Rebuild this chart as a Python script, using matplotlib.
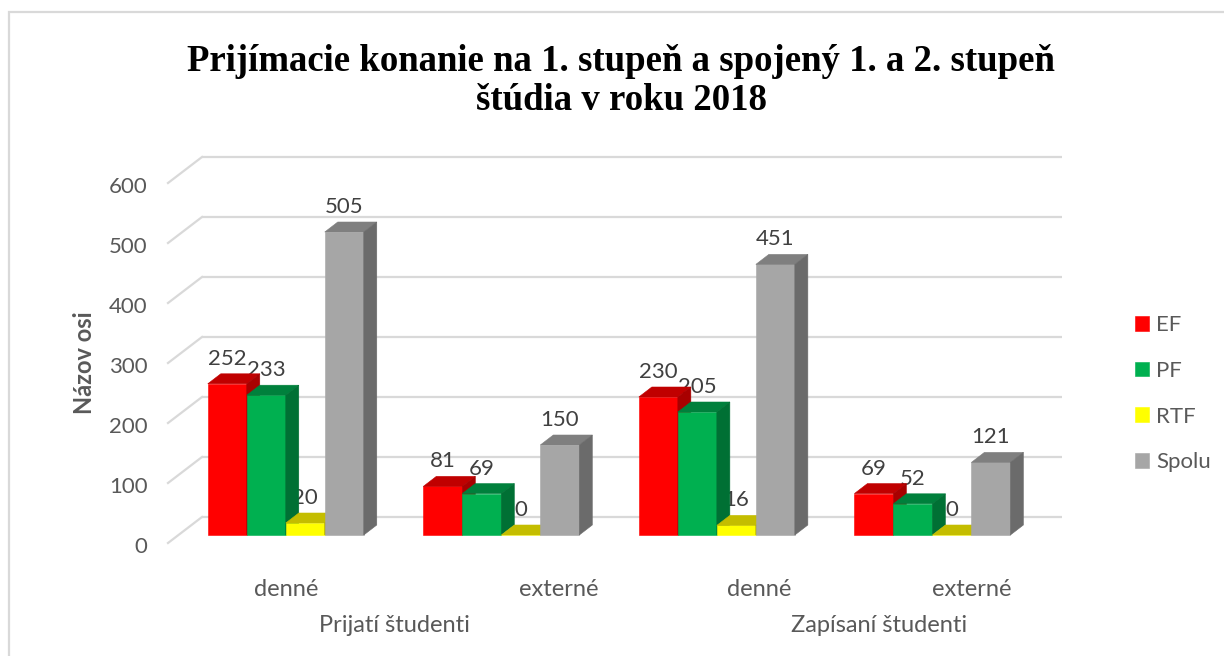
import numpy as np
import matplotlib
matplotlib.use("Agg")
import matplotlib.pyplot as plt
import matplotlib.transforms as mtransforms
from matplotlib.patches import Polygon, Rectangle

# --- chart data ---
categories = ["denné", "externé", "denné", "externé"]
super_categories = ["Prijatí študenti", "Zapísaní študenti"]
series_names = ["EF", "PF", "RTF", "Spolu"]
ef_values = [252, 81, 230, 69]
pf_values = [233, 69, 205, 52]
rtf_values = [20, 0, 16, 0]
spolu_values = [505, 150, 451, 121]
y_ticks = [0, 100, 200, 300, 400, 500, 600]

title_text = "Prijímacie konanie na 1. stupeň a spojený 1. a 2. stupeň\nštúdia v roku 2018"
y_title = "Názov osi"

# --- style ---
# front, top, side face colours per series
face_colors = [
    ("#FF0000", "#C00000", "#A80000"),
    ("#00B050", "#00803C", "#007034"),
    ("#FFFF00", "#C4BD00", "#A8A200"),
    ("#A6A6A6", "#7F7F7F", "#6B6B6B"),
]
GRID_COLOR = "#D9D9D9"
TEXT_COLOR = "#595959"
LABEL_COLOR = "#404040"
SANS = ["Lato", "DejaVu Sans"]

W, H = 1224, 656
fig = plt.figure(figsize=(W / 100, H / 100), dpi=100)

# axes = front plane of the bars (pixels 178..1038 x 535..175)
ax = fig.add_axes([178 / W, (H - 535) / H, 860 / W, 360 / H])
x_lim = (-0.5, 3.49)
ax.set_xlim(*x_lim)
ax.set_ylim(0, 600)
px_x = 860 / (x_lim[1] - x_lim[0])   # pixels per category unit
px_y = 360 / 600                     # pixels per value unit

# depth offsets, pixels -> data units
bar_dx, bar_dy = 13 / px_x, 10 / px_y
wall_dx, wall_dy = 24 / px_x, 18 / px_y
floor_dx, floor_dy = -10 / px_x, -8 / px_y

# back wall gridlines with the slanted side-wall part
for v in y_ticks:
    ax.plot([x_lim[0] + wall_dx, x_lim[1] + wall_dx], [v + wall_dy, v + wall_dy],
            color=GRID_COLOR, lw=1.6, zorder=1, clip_on=False, solid_capstyle="butt")
    ax.plot([x_lim[0] + floor_dx, x_lim[0] + wall_dx], [v + floor_dy, v + wall_dy],
            color=GRID_COLOR, lw=1.6, zorder=1, clip_on=False)

# --- 3d-looking bars ---
x = np.arange(len(categories))
bar_w = 39 / px_x
all_values = [ef_values, pf_values, rtf_values, spolu_values]
legend_handles = []

for k, (name, vals, cols) in enumerate(zip(series_names, all_values, face_colors)):
    front_c, top_c, side_c = cols
    z = 3 + 0.1 * k
    lefts = x - 2 * bar_w + k * bar_w
    bars = ax.bar(lefts, vals, width=bar_w, align="edge", color=front_c,
                  edgecolor=front_c, linewidth=0.4, zorder=z, clip_on=False, label=name)
    legend_handles.append(bars)
    for xl, v in zip(lefts, vals):
        top = Polygon([(xl, v), (xl + bar_w, v), (xl + bar_w + bar_dx, v + bar_dy),
                       (xl + bar_dx, v + bar_dy)], closed=True,
                      facecolor=top_c, edgecolor=top_c, lw=0.4, zorder=z + 0.01, clip_on=False)
        side = Polygon([(xl + bar_w, 0), (xl + bar_w, v), (xl + bar_w + bar_dx, v + bar_dy),
                        (xl + bar_w + bar_dx, bar_dy)], closed=True,
                       facecolor=side_c, edgecolor=side_c, lw=0.4, zorder=z + 0.01, clip_on=False)
        ax.add_patch(top)
        ax.add_patch(side)
        ax.text(xl + bar_w / 2, v + bar_dy + 15 / px_y, str(v), ha="center", va="center",
                fontsize=16, color=LABEL_COLOR, family=SANS, zorder=2.5)

# --- axes cosmetics ---
for sp in ax.spines.values():
    sp.set_visible(False)
ax.patch.set_visible(False)

ax.set_yticks(y_ticks)
ax.set_yticklabels([str(t) for t in y_ticks], fontsize=16, color=TEXT_COLOR, family=SANS)
ax.tick_params(axis="y", length=0, pad=22)
shift = mtransforms.ScaledTranslation(0, -10 / 100, fig.dpi_scale_trans)
for lab in ax.get_yticklabels():
    lab.set_transform(lab.get_transform() + shift)

# category labels sit where the original places them
category_x = [0.0, 1.267, 2.195, 3.183]
ax.set_xticks(category_x)
ax.set_xticklabels(categories, fontsize=17, color=TEXT_COLOR, family=SANS)
ax.tick_params(axis="x", length=0, pad=32)

super_x = [0.506, 2.752]
for sx, lab in zip(super_x, super_categories):
    ax.text(sx, -150, lab, ha="center", va="center", fontsize=17,
            color=TEXT_COLOR, family=SANS, clip_on=False)

fig.text(85 / W, 1 - 363 / H, y_title, rotation=90, ha="center", va="center",
         fontsize=17, fontweight="bold", color=TEXT_COLOR, family=SANS)

fig.text(621 / W, 1 - 81 / H, title_text, ha="center", va="center",
         fontsize=26.5, fontweight="bold", family=["Liberation Serif", "DejaVu Serif"],
         color="black", linespacing=1.16)

leg = fig.legend(handles=legend_handles, labels=series_names, loc="upper left",
                 bbox_to_anchor=(1135 / W, 1 - 315 / H), frameon=False,
                 borderpad=0, borderaxespad=0,
                 prop={"family": SANS, "size": 16}, handlelength=0.64, handleheight=0.64,
                 handletextpad=0.3, labelspacing=1.16)
for t in leg.get_texts():
    t.set_color(TEXT_COLOR)

# chart border (runs off the right and bottom of the image)
fig.patches.append(Rectangle((9 / W, -0.05), 1.1, 1 - 12 / H + 0.05,
                             transform=fig.transFigure, fill=False,
                             edgecolor="#D9D9D9", lw=1.6))

fig.savefig("out.png", dpi=100)
